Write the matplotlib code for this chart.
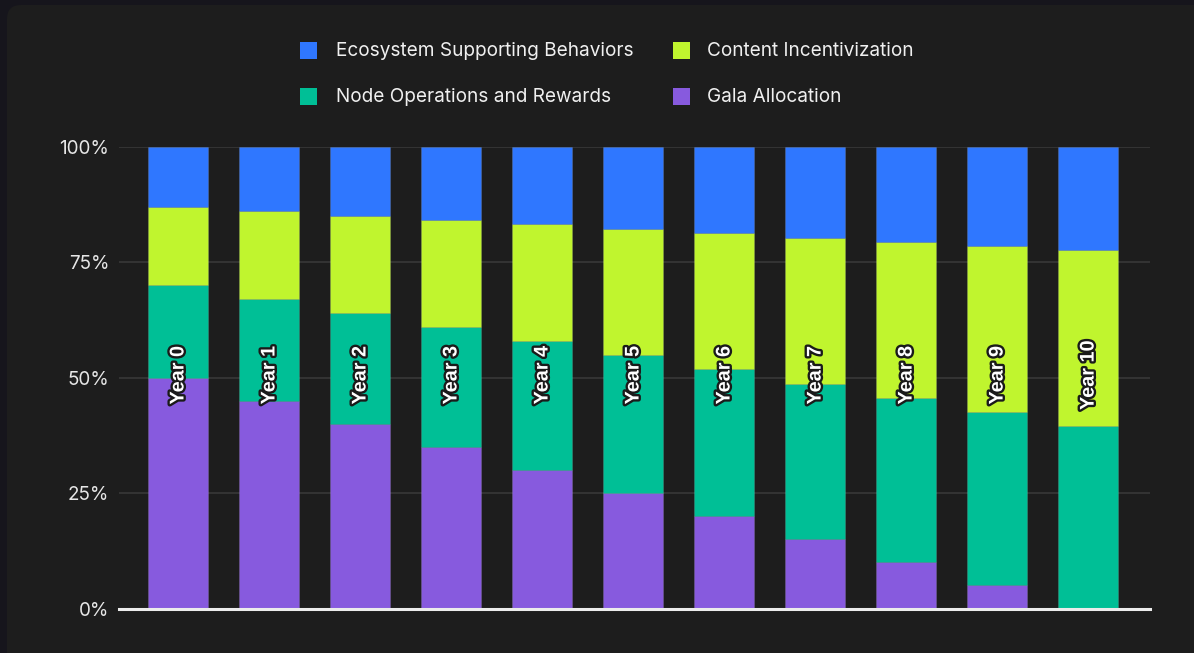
import matplotlib
matplotlib.use("Agg")
import matplotlib.pyplot as plt
import numpy as np
from matplotlib.patches import Rectangle, FancyBboxPatch
from matplotlib.transforms import IdentityTransform
import matplotlib.patheffects as pe
from matplotlib.ticker import FuncFormatter

years = ["Year 0", "Year 1", "Year 2", "Year 3", "Year 4", "Year 5",
         "Year 6", "Year 7", "Year 8", "Year 9", "Year 10"]
gala = [50, 45, 40, 35, 30, 25, 20, 15, 10, 5, 0]
node = [20, 21.9, 23.9, 25.9, 27.9, 29.8, 31.8, 33.7, 35.6, 37.6, 39.4]
content = [17, 19.2, 21.1, 23.2, 25.3, 27.4, 29.5, 31.6, 33.8, 35.8, 38.1]
eco = [13, 13.9, 15, 15.9, 16.8, 17.8, 18.7, 19.7, 20.6, 21.6, 22.5]
yticks = [0, 25, 50, 75, 100]

series = [
    ("Gala Allocation", gala, "#875ade"),
    ("Node Operations and Rewards", node, "#00bf96"),
    ("Content Incentivization", content, "#c0f52e"),
    ("Ecosystem Supporting Behaviors", eco, "#2f77ff"),
]
colors = {name: c for name, _, c in series}

W, H = 1194, 653
fig = plt.figure(figsize=(W / 100, H / 100), dpi=100, facecolor="#16151c")

panel = FancyBboxPatch((7, -30), W + 40, H + 30 - 5, boxstyle="round,pad=0,rounding_size=14",
                       transform=IdentityTransform(), facecolor="#1d1d1d", edgecolor="none", zorder=-10)
fig.patches.append(panel)

ax = fig.add_axes([119 / W, 44.5 / H, (1150 - 119) / W, 462 / H])
ax.set_facecolor("none")
ax.set_zorder(1)

x = np.arange(len(years))
bottom = np.zeros(len(years))
for name, vals, c in series:
    vals = np.array(vals, dtype=float)
    ax.bar(x, vals, bottom=bottom, width=0.66, color=c, edgecolor=(1, 1, 1, 0.12),
           linewidth=0.6, zorder=3)
    bottom += vals

for xi, lab in zip(x, years):
    ax.text(xi, 50.5, lab, rotation=90, ha="center", va="center", fontsize=14.3,
            fontweight="bold", family=["Liberation Sans", "DejaVu Sans"], color="white", zorder=5,
            path_effects=[pe.withStroke(linewidth=3.4, foreground="#1a1a1a")])

ax.set_xlim(-0.648, 10.68)
ax.set_ylim(0, 100)
ax.set_yticks(yticks)
ax.yaxis.set_major_formatter(FuncFormatter(lambda v, p: f"{int(v)}%"))
ax.set_xticks([])
ax.grid(axis="y", color="#3a3a3a", linewidth=1.1, zorder=0)
ax.tick_params(axis="y", length=0, pad=7, labelsize=13.6, labelcolor="#e6e6e6")
for lbl in ax.get_yticklabels():
    lbl.set_family(["Inter", "DejaVu Sans"])
for s in ["top", "right", "left"]:
    ax.spines[s].set_visible(False)
ax.spines["bottom"].set_color("#ececec")
ax.spines["bottom"].set_linewidth(2.2)
ax.spines["bottom"].set_zorder(6)

legend_items = [
    ("Ecosystem Supporting Behaviors", 300, 336, 50),
    ("Content Incentivization", 673, 707, 50),
    ("Node Operations and Rewards", 300, 336, 96),
    ("Gala Allocation", 673, 707, 96),
]
for name, sx, tx, yc in legend_items:
    fig.patches.append(Rectangle((sx, H - yc - 8.5), 17, 17, transform=IdentityTransform(),
                                 facecolor=colors[name], edgecolor="none", zorder=2))
    fig.text(tx / W, (H - yc - 1.5) / H, name, ha="left", va="center", fontsize=13.7,
             family=["Inter", "DejaVu Sans"], color="#f0f0f0")

fig.savefig("out.png", dpi=100, facecolor=fig.get_facecolor())
